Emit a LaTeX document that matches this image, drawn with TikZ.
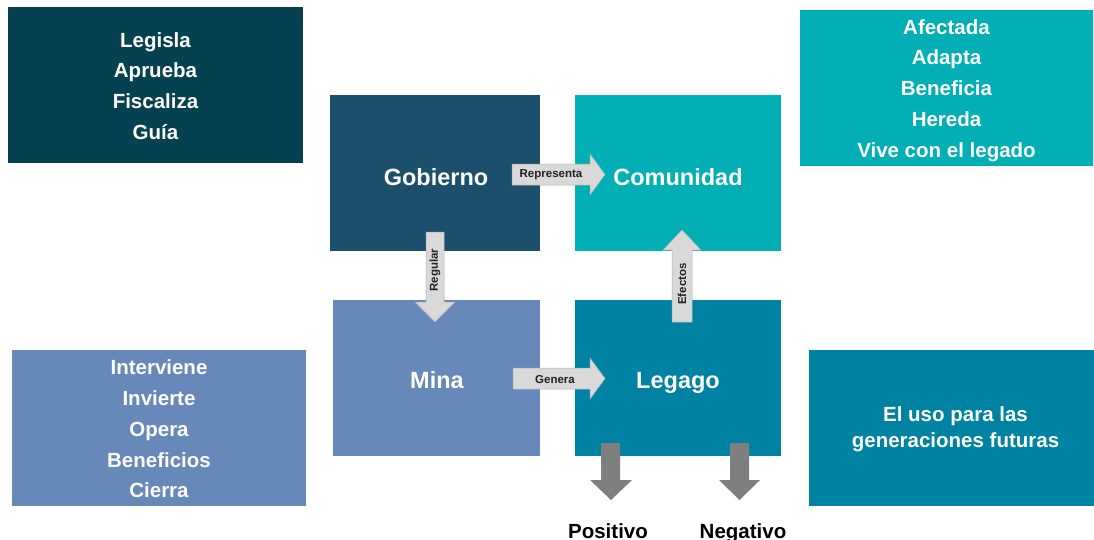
\documentclass[tikz,border=0pt]{standalone}
\usepackage{fontspec}
\setmainfont{Liberation Sans}
\begin{document}
\begin{tikzpicture}[x=1pt,y=-1pt,
  box/.style={draw=none,inner sep=0pt,anchor=base,text=white,font=\fontsize{23.5}{28}\selectfont\bfseries},
  listtxt/.style={text=white,align=center,inner sep=0pt,font=\fontsize{20.5}{30.8}\selectfont\bfseries},
  lightarrow/.style={fill=arrowlight,draw=arrowedge,line width=0.5pt},
  darkarrow/.style={fill=arrowdark,draw=none},
  arrlabel/.style={text=labeltxt,inner sep=0pt,font=\fontsize{11.5}{13}\selectfont\bfseries},
  outlabel/.style={text=black,inner sep=0pt,anchor=base,font=\fontsize{20.5}{24}\selectfont\bfseries}]
\definecolor{cdark}{HTML}{054150}
\definecolor{cgob}{HTML}{1B4F6B}
\definecolor{cteal}{HTML}{02AFB4}
\definecolor{cmina}{HTML}{6689BA}
\definecolor{cleg}{HTML}{0083A3}
\definecolor{arrowlight}{HTML}{D9D9D9}
\definecolor{arrowedge}{HTML}{B0B0B0}
\definecolor{arrowdark}{HTML}{7F7F7F}
\definecolor{labeltxt}{HTML}{222222}
\useasboundingbox[fill=white] (0,0) rectangle (1094,539);

% side boxes
\fill[cdark] (8,7) rectangle (303,163);
\node[listtxt] (tl) at (155.5,86) {Legisla\\Aprueba\\Fiscaliza\\Guía};
\fill[cteal] (800,10) rectangle (1093,166);
\node[listtxt] (tr) at (946.5,90.5) {Afectada\\Adapta\\Beneficia\\Hereda\\Vive con el legado};
\fill[cmina] (12,350) rectangle (306,506);
\node[listtxt] (bl) at (159,429) {Interviene\\Invierte\\Opera\\Beneficios\\Cierra};
\fill[cleg] (809,350) rectangle (1094,506);
\node[listtxt,font=\fontsize{20.5}{26}\selectfont\bfseries] (br) at (955.5,429.5) {El uso para las\\generaciones futuras};

% central boxes
\fill[cgob] (330,95) rectangle (540,251);
\node[box] (gob) at (436,185) {Gobierno};
\fill[cteal] (575,95) rectangle (781,251);
\node[box] (com) at (678,185) {Comunidad};
\fill[cmina] (333,300) rectangle (540,456);
\node[box] (mina) at (437,388.5) {Mina};
\fill[cleg] (575,300) rectangle (781,456);
\node[box] (leg) at (678,388.5) {Legago};

% block arrows
\draw[lightarrow] (512,164) -- (590,164) -- (590,154) -- (605,174.5) -- (590,195) -- (590,185) -- (512,185) -- cycle;
\node[arrlabel] (lrep) at (551,175) {Representa};
\draw[lightarrow] (513,368) -- (590,368) -- (590,358) -- (605,378.5) -- (590,399) -- (590,389) -- (513,389) -- cycle;
\node[arrlabel] (lgen) at (555,379.5) {Genera};
\draw[lightarrow] (426,232) -- (444,232) -- (444,302) -- (455,302) -- (435,322) -- (415,302) -- (426,302) -- cycle;
\node[arrlabel,rotate=90] (lreg) at (435,270) {Regular};
\draw[lightarrow] (672,322) -- (692,322) -- (692,250) -- (701,250) -- (682,230) -- (663,250) -- (672,250) -- cycle;
\node[arrlabel,rotate=90] (lefe) at (682,284) {Efectos};

% outcome arrows
\fill[darkarrow] (601,443) -- (620,443) -- (620,480) -- (632,480) -- (611,500) -- (590,480) -- (601,480) -- cycle;
\fill[darkarrow] (730,443) -- (749,443) -- (749,480) -- (760,480) -- (739.5,500) -- (719,480) -- (730,480) -- cycle;
\node[outlabel] (pos) at (608,538) {Positivo};
\node[outlabel] (neg) at (743,538) {Negativo};
\end{tikzpicture}
\end{document}
